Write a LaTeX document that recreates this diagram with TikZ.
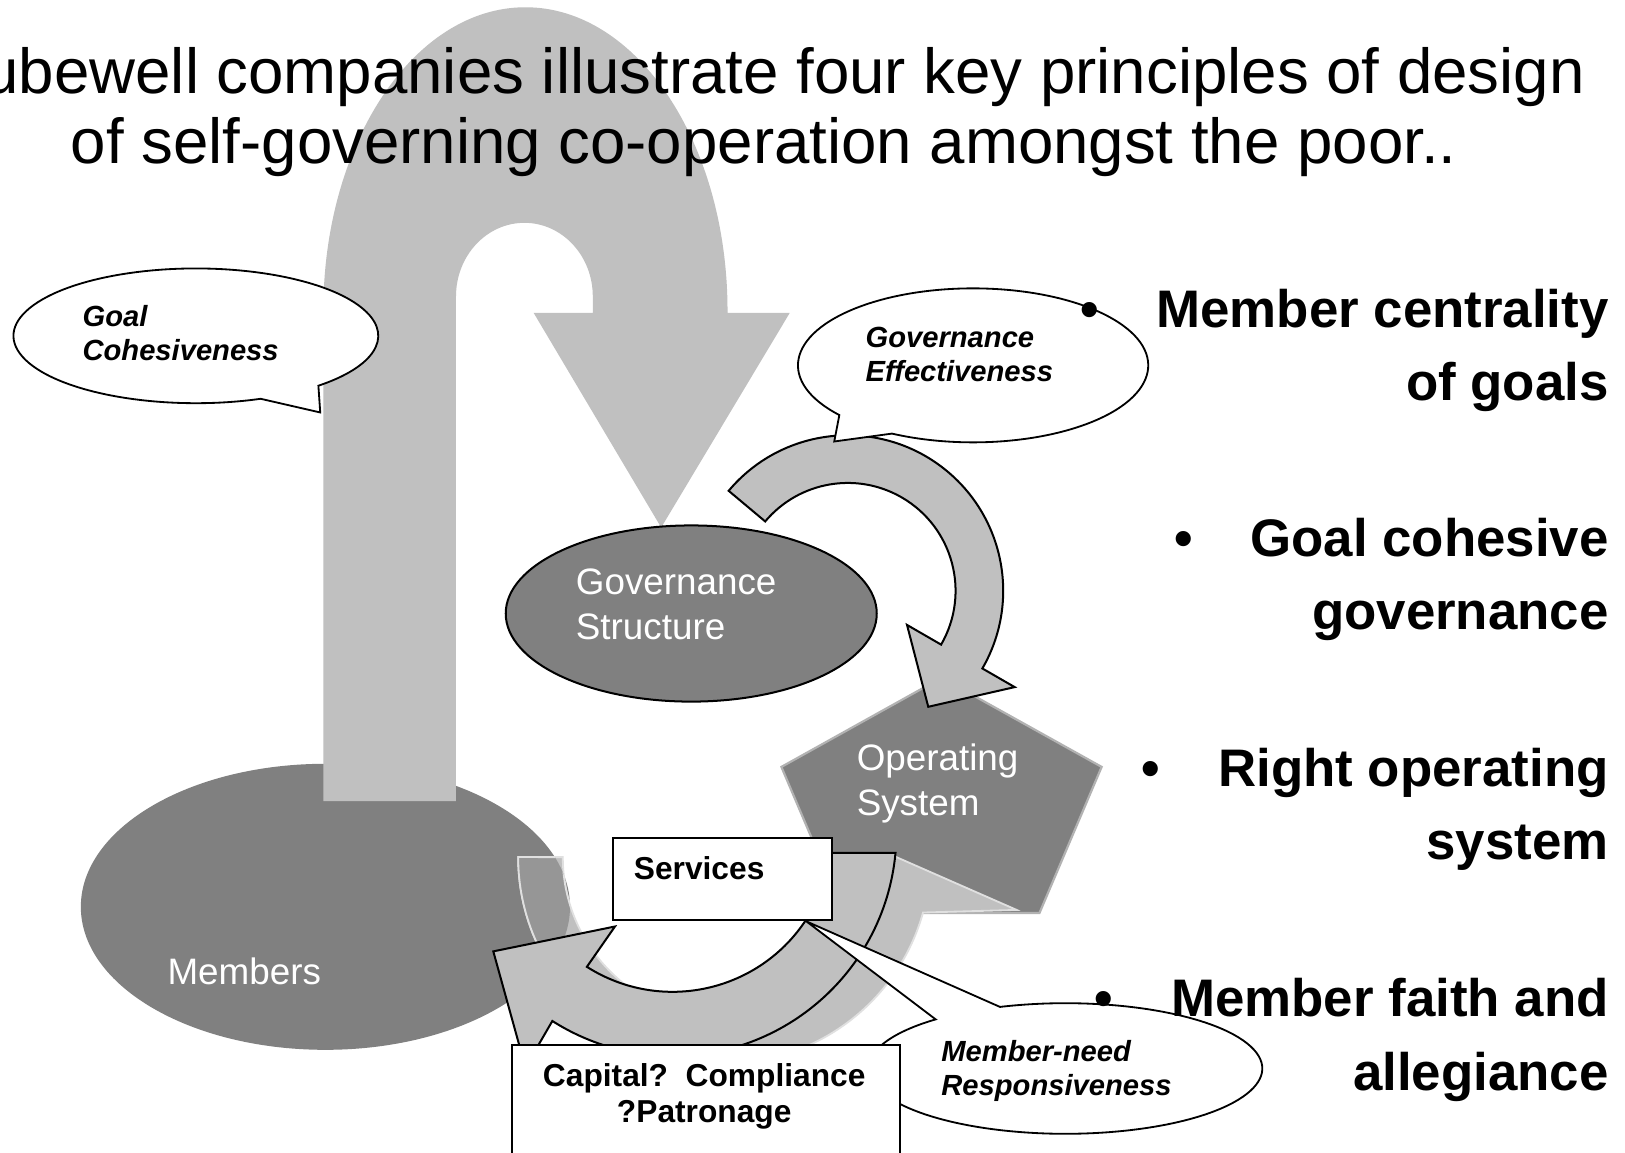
\documentclass[tikz,border=0pt]{standalone}
\usepackage{fontspec}
\setmainfont{Liberation Sans}

\definecolor{darkfill}{gray}{0.5}
\definecolor{lightfill}{gray}{0.753}
\definecolor{stripfill}{gray}{0.59}

% circular arrow running from the members round to the operating system
\newcommand{\osarrowpath}{(500,827) arc[start angle=180, end angle=15.6, radius=199]
  -- (981,878) -- (858,824) -- (805,852) -- (849.3,869)
  arc[start angle=15.6, end angle=180, radius=156] -- cycle}

\begin{document}
\begin{tikzpicture}[x=0.01cm, y=-0.01cm,
    darkshape/.style={fill=darkfill},
    lightshape/.style={fill=lightfill},
    outlined/.style={draw=black, line width=0.55pt},
    callout/.style={fill=white, draw=black, line width=0.5pt},
    heading/.style={inner sep=0, font=\fontsize{17.45}{20}\selectfont},
    shapelabel/.style={inner sep=0, text=white, align=left, font=\fontsize{10.1}{12.4}\selectfont},
    calloutlabel/.style={inner sep=0, align=left, font=\bfseries\itshape\fontsize{8}{9.5}\selectfont},
    boxlabel/.style={inner sep=0, font=\bfseries\fontsize{8.7}{9.9}\selectfont},
    principle/.style={inner sep=0, font=\bfseries\fontsize{14.5}{17}\selectfont}]

    \useasboundingbox (0,0) rectangle (1568,1112);
    \fill[white] (0,0) rectangle (1568,1112);

    % members
    \fill[darkshape] (314,875) ellipse [x radius=236, y radius=138];

    % big loop from the members up and over to the governance structure
    \fill[lightshape] (312,773) -- (312,300)
        arc[start angle=180, end angle=360, x radius=195, y radius=293]
        -- (702,302) -- (762,302) -- (638,509) -- (515,302) -- (572,302) -- (572,286)
        arc[start angle=0, end angle=-180, x radius=66, y radius=71]
        -- (440,773) -- cycle;

    \draw[callout] (251.5,384.8)
        arc[start angle=69.2, end angle=407.8, x radius=176, y radius=65]
        -- (309,398) -- cycle;

    \draw[darkshape, outlined] (667,592) ellipse [x radius=179, y radius=85];

    \filldraw[darkshape, draw=black!30, line width=0.6pt]
        (908.5,654) -- (1063,740) -- (1003,881) -- (814,881) -- (754,740) -- cycle;

    % governance -> operating system
    \draw[lightshape, outlined] (703.1,473.6)
        arc[start angle=220, end angle=390, radius=150]
        -- (979.1,663) -- (895.7,682) -- (875.2,603) -- (908.1,622)
        arc[start angle=390, end angle=220, radius=104] -- cycle;

    \draw[callout] (809.9,400.5)
        arc[start angle=139.8, end angle=477.6, x radius=169, y radius=74.3]
        -- (805,426) -- cycle;

    \filldraw[lightshape, draw=black!12, line width=0.5pt] \osarrowpath;
    \begin{scope}
        \clip (314,875) ellipse [x radius=236, y radius=138];
        \filldraw[fill=stripfill, draw=black!12, line width=0.5pt] \osarrowpath;
    \end{scope}

    % services -> members
    \draw[lightshape, outlined] (864.1,823)
        arc[start angle=5.31, end angle=122.5, radius=216]
        -- (507,1030) -- (476,918) -- (593.4,894) -- (566.3,932.9)
        arc[start angle=122.5, end angle=7.46, radius=154] -- cycle;

    \draw[callout] (964.9,971.6)
        arc[start angle=250.6, end angle=588.8, x radius=190, y radius=63]
        -- (778,889) -- cycle;

    \node[callout, minimum width=2.105cm, minimum height=0.79cm, inner sep=0] (services) at (697.2,848.5) {};
    \node[callout, minimum width=3.74cm, minimum height=1.3cm, inner sep=0] (capital) at (681,1073) {};

    % labels (base anchor sits on the last line)
    \node[heading, anchor=base east] (title1) at (1530,90) {ubewell companies illustrate four key principles of design};
    \node[heading, anchor=base] (title2) at (737,158) {of self-governing co-operation amongst the poor..};

    \node[shapelabel, anchor=base west] (memberslabel) at (161,950) {Members};
    \node[shapelabel, anchor=base west] (govlabel) at (555,617.5) {Governance\\Structure};
    \node[shapelabel, anchor=base west] (oslabel) at (826,787.3) {Operating\\System};

    \node[calloutlabel, anchor=base west] (goalnote) at (79,348) {Goal\\Cohesiveness};
    \node[calloutlabel, anchor=base west] (govnote) at (834.6,368.3) {Governance\\Effectiveness};
    \node[calloutlabel, anchor=base west] (neednote) at (907.7,1057.2) {Member-need\\Responsiveness};

    \node[boxlabel, anchor=base west] (serviceslabel) at (611,849) {Services};
    \node[boxlabel, anchor=base, align=center] (capitallabel) at (679.5,1083.2) {Capital?\ \ Compliance\\?Patronage};

    % four principles
    \node[principle, anchor=base east] (goals1) at (1553,316) {Member centrality};
    \node[principle, anchor=base east] (goals2) at (1553,386) {of goals};
    \node[principle, anchor=base east] (cohesion1) at (1553,537) {Goal cohesive};
    \node[principle, anchor=base east] (cohesion2) at (1553,607) {governance};
    \node[principle, anchor=base east] (operating1) at (1553,759) {Right operating};
    \node[principle, anchor=base east] (operating2) at (1553,829) {system};
    \node[principle, anchor=base east] (faith1) at (1553,981) {Member faith and};
    \node[principle, anchor=base east] (faith2) at (1553,1052) {allegiance};

    \node[principle, anchor=base] (dotA) at ([xshift=-0.64cm]goals1.base west) {•};
    \node[principle, anchor=base] (dotB) at ([xshift=-0.64cm]cohesion1.base west) {•};
    \node[principle, anchor=base] (dotC) at ([xshift=-0.64cm]operating1.base west) {•};
    \node[principle, anchor=base] (dotD) at ([xshift=-0.64cm]faith1.base west) {•};
\end{tikzpicture}
\end{document}
